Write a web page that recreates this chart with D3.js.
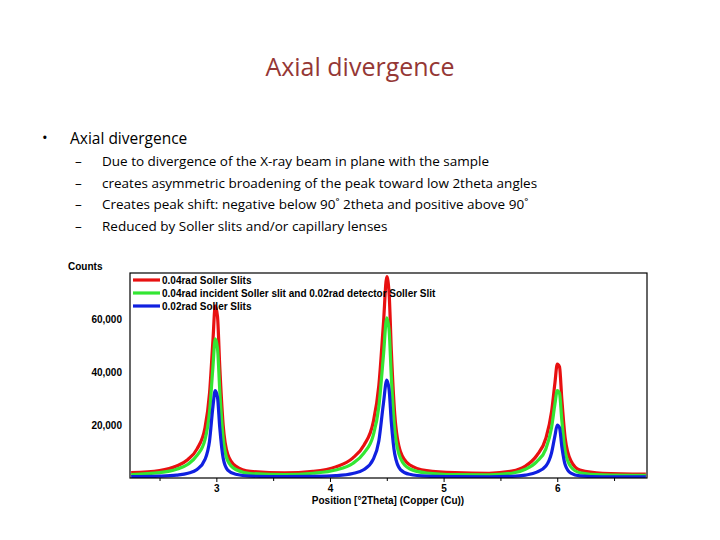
<!DOCTYPE html>
<html>
<meta charset="utf-8">
<style>
  body{margin:0;background:#fff}
  svg text{font-family:"Liberation Sans",Arial,sans-serif}
  .slide{font-family:"Open Sans","Liberation Sans",sans-serif !important}
  .ax text{font-weight:bold;font-size:10px}
</style>
<body>
<script src="https://cdn.jsdelivr.net/npm/d3@7"></script>
<script>
// values: [2theta, counts]
var red = [[2.25,2000],[2.5,2800],[2.65,4500],[2.75,7000],[2.83,11000],[2.9,19000],[2.94,32000],[2.97,52000],[2.99,65000],[3.01,61000],[3.03,42000],[3.06,20000],[3.1,9000],[3.17,4500],[3.3,2500],[3.6,1900],[3.85,2500],[4.05,4200],[4.2,7500],[4.3,12500],[4.38,21000],[4.43,35000],[4.47,58000],[4.5,76000],[4.52,70000],[4.54,48000],[4.57,24000],[4.62,10000],[4.7,5000],[4.85,2800],[5.1,2000],[5.4,1800],[5.6,2600],[5.72,4500],[5.82,8500],[5.9,15000],[5.95,25000],[5.98,36000],[6.0,43000],[6.02,42000],[6.04,30000],[6.07,15000],[6.12,6500],[6.2,3000],[6.4,1800],[6.78,1500]];
var green = [[2.25,1300],[2.5,2000],[2.65,3300],[2.75,5200],[2.83,8500],[2.9,14500],[2.94,25000],[2.97,42000],[2.99,52500],[3.01,49000],[3.03,33000],[3.06,15000],[3.1,6500],[3.17,3200],[3.3,1700],[3.6,1300],[3.85,1800],[4.05,3000],[4.2,5500],[4.3,9500],[4.38,16000],[4.43,27000],[4.47,46000],[4.5,60500],[4.52,56000],[4.54,38000],[4.57,18000],[4.62,7500],[4.7,3500],[4.85,1900],[5.1,1300],[5.4,1200],[5.6,1800],[5.72,3300],[5.82,6200],[5.9,11000],[5.95,19000],[5.98,28000],[6.0,33000],[6.02,32000],[6.04,22000],[6.07,10000],[6.12,4200],[6.2,2000],[6.4,1200],[6.78,1000]];
var blue = [[2.25,500],[2.5,700],[2.65,1100],[2.75,1800],[2.83,3200],[2.9,7000],[2.94,14000],[2.97,27000],[2.99,33000],[3.01,30500],[3.03,19000],[3.06,7500],[3.1,3000],[3.17,1400],[3.3,700],[3.6,500],[3.85,600],[4.05,900],[4.2,1700],[4.3,3200],[4.38,7000],[4.43,14000],[4.47,28000],[4.5,37000],[4.52,33500],[4.54,21000],[4.57,9000],[4.62,3200],[4.7,1400],[4.85,700],[5.1,500],[5.4,450],[5.6,600],[5.72,1100],[5.82,2200],[5.9,4500],[5.95,9500],[5.98,16000],[6.0,20000],[6.02,19000],[6.04,12000],[6.07,5000],[6.12,1800],[6.2,800],[6.4,450],[6.78,400]];
var seriesNames = ['0.04rad Soller Slits','0.04rad incident Soller slit and 0.02rad detector Soller Slit','0.02rad Soller Slits'];
var seriesColors = ['#e81010','#33e633','#1020e0'];
var xTicks = [3,4,5,6];
var yTicks = [20000,40000,60000];
var bullets = ['Due to divergence of the X-ray beam in plane with the sample',
  'creates asymmetric broadening of the peak toward low 2theta angles',
  'Creates peak shift: negative below 90\u02da 2theta and positive above 90\u02da',
  'Reduced by Soller slits and/or capillary lenses'];

var svg = d3.select('body').append('svg').attr('width',720).attr('height',540)

svg.append('text').attr('class','slide').attr('x',360).attr('y',76).attr('text-anchor','middle')
  .attr('font-size',25).attr('fill','#953735').text('Axial divergence')
svg.append('text').attr('class','slide').attr('x',42).attr('y',143).attr('font-size',15).text('\u2022')
svg.append('text').attr('class','slide').attr('x',70).attr('y',144).attr('font-size',15.5).text('Axial divergence')
bullets.forEach(function(b,i){
  var y = 166 + i*21.5
  svg.append('text').attr('class','slide').attr('x',75).attr('y',y).attr('font-size',13.5).text('\u2013')
  svg.append('text').attr('class','slide').attr('x',102).attr('y',y).attr('font-size',13.5).text(b)
})

var L=130, R=647, T=273, B=478
var x = d3.scaleLinear().domain([2.24,6.79]).range([L,R])
var y = d3.scaleLinear().domain([0,77400]).range([B,T])

svg.append('defs').append('clipPath').attr('id','clip')
  .append('rect').attr('x',L).attr('y',T-6).attr('width',R-L).attr('height',B-T+6)

var line = d3.line().x(d=>x(d[0])).y(d=>y(d[1])).curve(d3.curveMonotoneX)
var g = svg.append('g').attr('clip-path','url(#clip)')
;[red,green,blue].forEach(function(s,i){
  g.append('path').datum(s).attr('d',line).attr('fill','none')
    .attr('stroke',seriesColors[i]).attr('stroke-width',3.2)
})

// frame
svg.append('rect').attr('x',L).attr('y',T).attr('width',R-L).attr('height',B-T)
  .attr('fill','none').attr('stroke','#000').attr('stroke-width',1.2)

var xa = svg.append('g').attr('class','ax').attr('transform','translate(0,'+B+')')
  .call(d3.axisBottom(x).tickValues(d3.range(2.5,6.8,0.5)).tickSize(4).tickFormat(d=>xTicks.indexOf(d)>=0?d:''))
xa.select('.domain').remove()
xa.selectAll('.tick').filter(d=>xTicks.indexOf(d)<0).select('line').attr('y2',3)
var ya = svg.append('g').attr('class','ax').attr('transform','translate('+L+',0)')
  .call(d3.axisLeft(y).tickValues(yTicks).tickSize(0).tickPadding(8))
ya.select('.domain').remove()

svg.append('text').attr('x',68).attr('y',270).attr('font-size',10).attr('font-weight','bold').text('Counts')
svg.append('text').attr('x',388).attr('y',504).attr('text-anchor','middle').attr('font-size',10)
  .attr('font-weight','bold').text('Position [\u00b02Theta] (Copper (Cu))')

seriesNames.forEach(function(n,i){
  var ly = 280 + i*13
  svg.append('line').attr('x1',133).attr('x2',160).attr('y1',ly).attr('y2',ly)
    .attr('stroke',seriesColors[i]).attr('stroke-width',3.2)
  svg.append('text').attr('x',162).attr('y',ly+3.5).attr('font-size',10).attr('font-weight','bold').text(n)
})
</script>
</body>
</html>
